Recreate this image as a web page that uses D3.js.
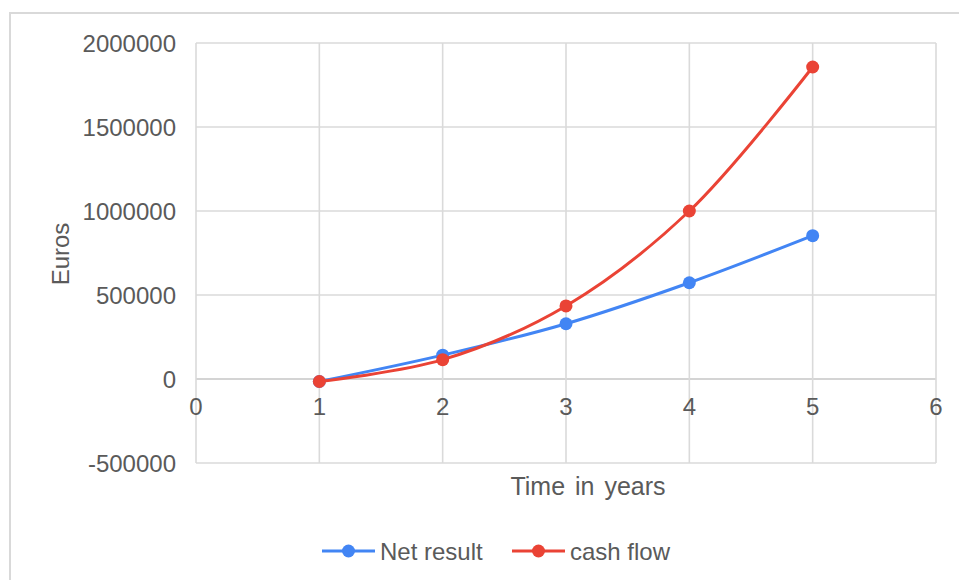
<!DOCTYPE html>
<html>
<head>
<meta charset="utf-8">
<script src="https://cdn.jsdelivr.net/npm/d3@7"></script>
<style>
  body { margin: 0; background: #fff; }
  text { font-family: "Liberation Sans", Arial, sans-serif; fill: #5a5a5a; }
</style>
</head>
<body>
<svg id="chart" width="959" height="580"></svg>
<script>
// data
const years = [1, 2, 3, 4, 5];
const netResult = [-15000, 142000, 329000, 573000, 853000];
const cashFlow = [-15000, 115000, 435000, 1000000, 1857000];
const xTicks = [0, 1, 2, 3, 4, 5, 6];
const yTicks = [-500000, 0, 500000, 1000000, 1500000, 2000000];
const seriesNames = ["Net result", "cash flow"];
const seriesColors = ["#4285f4", "#ea4335"];

const svg = d3.select('#chart');

// outer frame (runs off the right / bottom edge)
svg.append('rect')
   .attr('x', 10).attr('y', 13)
   .attr('width', 980).attr('height', 600)
   .attr('fill', 'none')
   .attr('stroke', '#d9d9d9')
   .attr('stroke-width', 2);

const plotL = 196, plotR = 936, plotT = 43, plotB = 463;
const x = d3.scaleLinear().domain([0, 6]).range([plotL, plotR]);
const y = d3.scaleLinear().domain([-500000, 2000000]).range([plotB, plotT]);

// grid
svg.append('g').selectAll('line')
   .data(yTicks)
   .join('line')
    .attr('x1', plotL).attr('x2', plotR)
    .attr('y1', d => y(d)).attr('y2', d => y(d))
    .attr('stroke', d => d === 0 ? '#c6c6c6' : '#dadada')
    .attr('stroke-width', 1.6);

svg.append('g').selectAll('line')
   .data(xTicks)
   .join('line')
    .attr('x1', d => x(d)).attr('x2', d => x(d))
    .attr('y1', plotT).attr('y2', plotB)
    .attr('stroke', '#dadada')
    .attr('stroke-width', 1.6);

// y tick labels
svg.append('g').selectAll('text')
   .data(yTicks)
   .join('text')
    .attr('x', plotL - 20)
    .attr('y', d => y(d))
    .attr('dy', '0.36em')
    .attr('text-anchor', 'end')
    .style('font-size', '24px')
    .text(d => d);

// x tick labels, sitting just under the zero line
svg.append('g').selectAll('text')
   .data(xTicks)
   .join('text')
    .attr('x', d => x(d))
    .attr('y', y(0) + 27)
    .attr('dy', '0.36em')
    .attr('text-anchor', 'middle')
    .style('font-size', '24px')
    .text(d => d);

// axis titles
svg.append('text')
   .attr('x', 588).attr('y', 486)
   .attr('dy', '0.36em')
   .attr('text-anchor', 'middle')
   .style('font-size', '25px')
   .style('word-spacing', '3px')
   .text('Time in years');

svg.append('text')
   .attr('transform', 'translate(60,254) rotate(-90)')
   .attr('dy', '0.36em')
   .attr('text-anchor', 'middle')
   .style('font-size', '24px')
   .text('Euros');

// lines + points
const line = d3.line()
               .x(d => x(d[0]))
               .y(d => y(d[1]))
               .curve(d3.curveCatmullRom.alpha(0.5));

[netResult, cashFlow].forEach((vals, i) => {
  const pts = years.map((yr, j) => [yr, vals[j]]);
  svg.append('path')
     .datum(pts)
     .attr('d', line)
     .attr('fill', 'none')
     .attr('stroke', seriesColors[i])
     .attr('stroke-width', 3);
  svg.append('g').selectAll('circle')
     .data(pts)
     .join('circle')
      .attr('cx', d => x(d[0]))
      .attr('cy', d => y(d[1]))
      .attr('r', 6.5)
      .attr('fill', seriesColors[i]);
});

// legend
const legendX = [322, 512];
const legend = svg.append('g').selectAll('g')
   .data(seriesNames)
   .join('g')
    .attr('transform', (d, i) => `translate(${legendX[i]},551)`);
legend.append('line')
      .attr('x1', 0).attr('x2', 53)
      .attr('stroke', (d, i) => seriesColors[i])
      .attr('stroke-width', 3);
legend.append('circle')
      .attr('cx', 26.5).attr('r', 6.5)
      .attr('fill', (d, i) => seriesColors[i]);
legend.append('text')
      .attr('x', 58)
      .attr('dy', '0.36em')
      .style('font-size', '24px')
      .text(d => d);
</script>
</body>
</html>
